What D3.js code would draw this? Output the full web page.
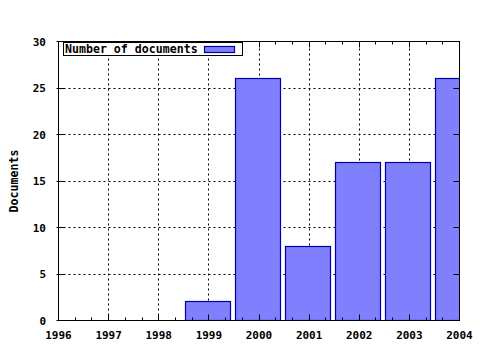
<!DOCTYPE html>
<html>
<head>
<meta charset="utf-8">
<script src="https://cdn.jsdelivr.net/npm/d3@7"></script>
<style>
  body { margin: 0; background: #fff; }
  text { font-family: "DejaVu Sans Mono", monospace; font-weight: bold; font-size: 11px; fill: #000; }
  text.big { font-size: 11.6px; }
</style>
</head>
<body>
<svg id="chart" width="480" height="350"></svg>
<script>
'use strict';

// data
const years = [1999, 2000, 2001, 2002, 2003, 2004];
const documents = [2, 26, 8, 17, 17, 26];
const xTicks = [1996, 1997, 1998, 1999, 2000, 2001, 2002, 2003, 2004];
const yTicks = [0, 5, 10, 15, 20, 25, 30];
const seriesName = 'Number of documents';
const yTitle = 'Documents';

const plotLeft = 58.5, plotRight = 459.5, plotTop = 41.5, plotBottom = 320.5;

const svg = d3.select('#chart');
const x = d3.scaleLinear([1996, 2004], [plotLeft, plotRight]);
const y = d3.scaleLinear([0, 30], [plotBottom, plotTop]);
const px = v => Math.round(v - 0.5) + 0.5;

svg.append('clipPath').attr('id', 'plot')
    .append('rect')
    .attr('x', plotLeft).attr('y', plotTop)
    .attr('width', plotRight - plotLeft).attr('height', plotBottom - plotTop);

// grid
const grid = svg.append('g')
    .attr('stroke', '#000')
    .attr('stroke-dasharray', '2,3')
    .attr('stroke-width', 1);
grid.selectAll('.gx')
    .data(xTicks.filter(d => d > 1996 && d < 2004))
    .join('line')
    .attr('x1', d => px(x(d))).attr('x2', d => px(x(d)))
    .attr('y1', plotBottom).attr('y2', plotTop);
grid.selectAll('.gy')
    .data(yTicks.filter(d => d > 0 && d < 30))
    .join('line')
    .attr('y1', d => px(y(d))).attr('y2', d => px(y(d)))
    .attr('x1', plotLeft).attr('x2', plotRight);

// bars
const barW = x(1996.9) - x(1996);
svg.append('g')
    .attr('clip-path', 'url(#plot)')
    .selectAll('rect')
    .data(years)
    .join('rect')
    .attr('x', d => px(x(d) - barW / 2 - 1))
    .attr('y', (d, i) => px(y(documents[i])))
    .attr('width', Math.round(barW))
    .attr('height', (d, i) => px(y(0)) - px(y(documents[i])))
    .attr('fill', '#8080ff')
    .attr('stroke', '#0000a0')
    .attr('stroke-width', 1.2);

// axes / border with inward ticks
const axes = svg.append('g').attr('stroke', '#000').attr('stroke-width', 1);
const minorX = d3.range(0, 24).filter(i => i % 3 !== 0).map(i => 1996 + i / 3);
const xTickMarks = xTicks.map(d => ({ v: d, len: 6 })).concat(minorX.map(d => ({ v: d, len: 3 })));
axes.selectAll('.tb')
    .data(xTickMarks)
    .join('line')
    .attr('x1', d => px(x(d.v))).attr('x2', d => px(x(d.v)))
    .attr('y1', plotBottom).attr('y2', d => plotBottom - d.len);
axes.selectAll('.tt')
    .data(xTickMarks)
    .join('line')
    .attr('x1', d => px(x(d.v))).attr('x2', d => px(x(d.v)))
    .attr('y1', plotTop).attr('y2', d => plotTop + d.len);
axes.selectAll('.tl')
    .data(yTicks)
    .join('line')
    .attr('y1', d => px(y(d))).attr('y2', d => px(y(d)))
    .attr('x1', plotLeft - 2).attr('x2', plotLeft + 6);
axes.selectAll('.tr')
    .data(yTicks)
    .join('line')
    .attr('y1', d => px(y(d))).attr('y2', d => px(y(d)))
    .attr('x1', plotRight).attr('x2', plotRight - 6);
axes.append('rect')
    .attr('x', plotLeft).attr('y', plotTop)
    .attr('width', plotRight - plotLeft).attr('height', plotBottom - plotTop)
    .attr('fill', 'none');

// tick labels
svg.append('g').selectAll('text')
    .data(xTicks)
    .join('text')
    .attr('x', d => x(d))
    .attr('y', 339)
    .attr('text-anchor', 'middle')
    .text(d => d);
svg.append('g').selectAll('text')
    .data(yTicks)
    .join('text')
    .attr('x', 46)
    .attr('y', d => y(d) + 4)
    .attr('text-anchor', 'end')
    .text(d => d);

// y title
svg.append('text')
    .attr('class', 'big')
    .attr('transform', 'translate(18,181) rotate(-90)')
    .attr('text-anchor', 'middle')
    .text(yTitle);

// legend
const legend = svg.append('g');
legend.append('rect')
    .attr('x', 63.5).attr('y', 42.5)
    .attr('width', 179).attr('height', 13)
    .attr('fill', '#fff').attr('stroke', '#000');
legend.append('text')
    .attr('class', 'big')
    .attr('x', 65).attr('y', 53)
    .text(seriesName);
legend.append('rect')
    .attr('x', 204.5).attr('y', 46.5)
    .attr('width', 30).attr('height', 6)
    .attr('fill', '#8080ff').attr('stroke', '#0000a0').attr('stroke-width', 1.2);
</script>
</body>
</html>
